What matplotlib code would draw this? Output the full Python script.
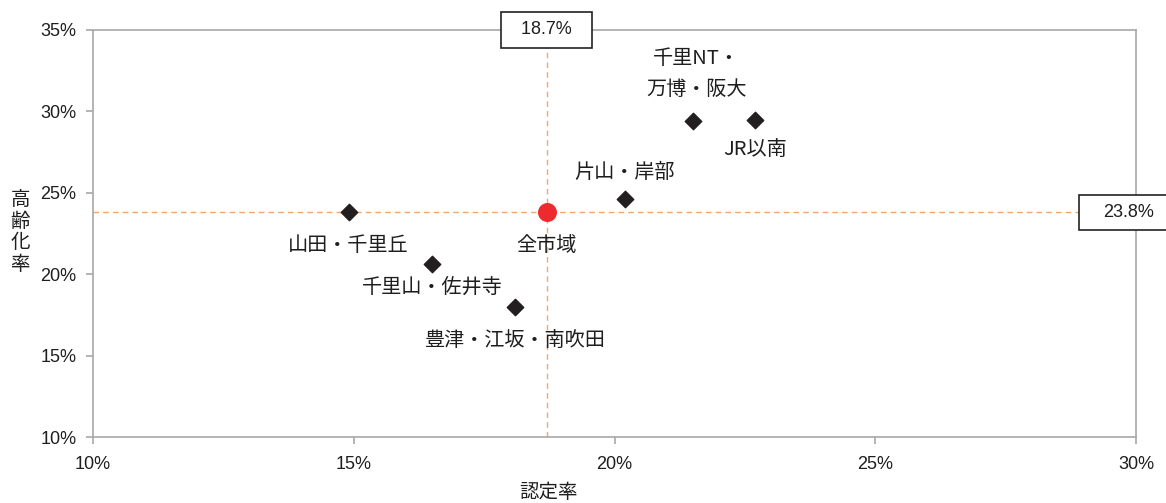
import matplotlib
matplotlib.use('Agg')
import matplotlib.pyplot as plt
from matplotlib import font_manager
from matplotlib.patches import Rectangle

# fonts: condensed latin for numbers, CJK for labels
names = set(f.name for f in font_manager.fontManager.ttflist)
narrow = 'Liberation Sans Narrow' if 'Liberation Sans Narrow' in names else 'Liberation Sans'
plt.rcParams['font.family'] = ['Noto Sans CJK JP', 'DejaVu Sans']

# data
areas = ['山田・千里丘', '千里山・佐井寺', '豊津・江坂・南吹田', '片山・岸部', '千里NT・\n万博・阪大', 'JR以南']
nintei = [14.9, 16.5, 18.1, 20.2, 21.5, 22.7]      # 認定率 (%)
koureika = [23.8, 20.6, 18.0, 24.6, 29.4, 29.5]    # 高齢化率 (%)
city_name = '全市域'
city_nintei = 18.7
city_koureika = 23.8
xticks = [10, 15, 20, 25, 30]
yticks = [10, 15, 20, 25, 30, 35]

# label offsets in pixels
offsets = [(0, -33), (0, -23), (0, -34), (0, 27), (4, 47), (0, -30)]

fig = plt.figure(figsize=(11.66, 5.03), dpi=100)
ax = fig.add_axes([0.0798, 0.1312, 0.8945, 0.8092])

spine_col = '#a8a8a8'
dash_col = '#f5a66a'
txt_col = '#1e1e1e'
for s in ax.spines.values():
    s.set_color(spine_col)
    s.set_linewidth(1.2)

ax.set_xlim(10, 30)
ax.set_ylim(10, 35)
ax.set_xticks(xticks)
ax.set_yticks(yticks)
ax.set_xticklabels([f'{v}%' for v in xticks], fontfamily=narrow, fontsize=13, color=txt_col)
ax.set_yticklabels([f'{v}%' for v in yticks], fontfamily=narrow, fontsize=13, color=txt_col)
ax.tick_params(axis='both', color=spine_col, length=5, width=1.2)
ax.tick_params(axis='x', pad=9)
ax.tick_params(axis='y', pad=7)

# reference lines through city average
ax.axvline(city_nintei, color=dash_col, lw=1, ls=(0, (4, 3)), zorder=1)
ax.axhline(city_koureika, color=dash_col, lw=1, ls=(0, (4, 3)), zorder=1)

ax.scatter(nintei, koureika, marker='D', s=70, color='#231f20', zorder=3)
ax.scatter([city_nintei], [city_koureika], marker='o', s=160, color='#ee2a2e', zorder=3)

for name, x, y, (dx, dy) in zip(areas, nintei, koureika, offsets):
    ax.annotate(name, (x, y), xytext=(dx, dy), textcoords='offset pixels',
                ha='center', va='center', fontsize=14.5, color=txt_col,
                linespacing=1.6)
ax.annotate(city_name, (city_nintei, city_koureika), xytext=(0, -33),
            textcoords='offset pixels', ha='center', va='center',
            fontsize=14.5, color=txt_col)

# value boxes
box = dict(boxstyle='square,pad=0.55', facecolor='white', edgecolor='#222222', lw=1.2)
ax.text(city_nintei, 35, f'  {city_nintei}%  ', ha='center', va='center',
        fontfamily=narrow, fontsize=13, color=txt_col, bbox=box, clip_on=False, zorder=5)
ax.add_patch(Rectangle((28.91, city_koureika - 1.08), 2.0, 2.16, facecolor='white',
                       edgecolor='#222222', lw=1.2, clip_on=False, zorder=4))
ax.text(29.85, city_koureika, f'{city_koureika}%', ha='center', va='center',
        fontfamily=narrow, fontsize=13, color=txt_col, clip_on=False, zorder=5)

# axis titles
fig.text(20 / 1166, 1 - 232 / 503, '高\n齢\n化\n率', ha='center', va='center',
         fontsize=14, color=txt_col, linespacing=1.05)
fig.text(548 / 1166, 1 - 493 / 503, '認定率', ha='center', va='center',
         fontsize=14, color=txt_col)

fig.savefig('out.png', dpi=100)
